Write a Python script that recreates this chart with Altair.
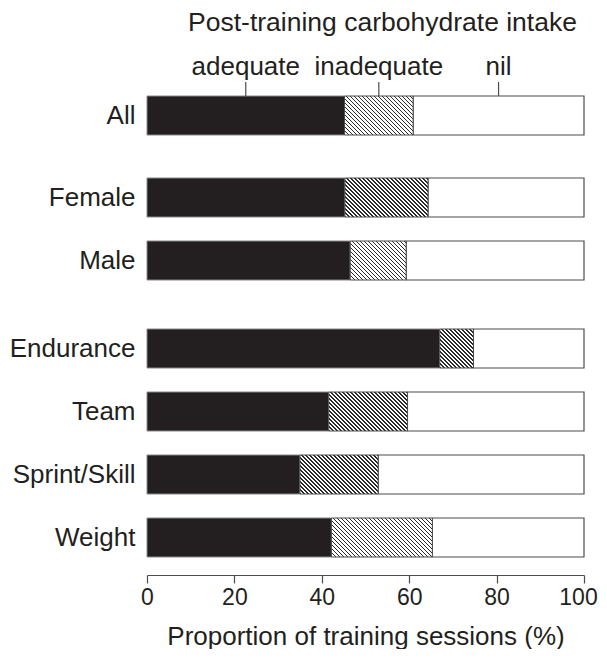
import altair as alt
import pandas as pd

groups = ["All", "Female", "Male", "Endurance", "Team", "Sprint/Skill", "Weight"]
adequate = [45.2, 45.3, 46.5, 67.0, 41.6, 35.0, 42.2]
inadequate = [15.7, 19.0, 12.8, 7.7, 18.0, 17.9, 23.1]
panel_rows = [["All"], ["Female", "Male"], ["Endurance", "Team", "Sprint/Skill", "Weight"]]
top_labels = ["adequate", "inadequate", "nil"]
x_ticks = [0, 20, 40, 60, 80, 100]
title_text = "Post-training carbohydrate intake"
x_title = "Proportion of training sessions (%)"

FONT = "Liberation Sans"
INK = "#231f20"
EDGE = "#4d4d4d"
W = 437
STEP = 63
BAR_H = 39

df = pd.DataFrame({"group": groups, "adequate": adequate, "inadequate": inadequate})


def hatch_gradient(w, h=BAR_H, period=4.0, dark=0.32):
    a = (w + h) / (w * w + h * h)
    n = (w + h) / period
    stops = []
    k = 0
    while k < n:
        o0 = k / n
        o1 = min((k + dark) / n, 1.0)
        o2 = min((k + 1) / n, 1.0)
        stops += [
            {"offset": o0, "color": "#2a2a2a"},
            {"offset": o1, "color": "#2a2a2a"},
            {"offset": o1, "color": "#ffffff"},
            {"offset": o2, "color": "#ffffff"},
        ]
        k += 1
    return {"gradient": "linear", "x1": 0, "y1": 1, "x2": a * w, "y2": 1 - a * h, "stops": stops}


xscale = alt.Scale(domain=[0, 100], nice=False, zero=True)


def panel(rows, first=False, last=False):
    base = (
        alt.Chart(df)
        .transform_filter(alt.FieldOneOfPredicate(field="group", oneOf=rows))
        .transform_calculate(end2="datum.adequate + datum.inadequate", full="100")
    )
    yenc = alt.Y(
        "group:N",
        sort=rows,
        scale=alt.Scale(paddingInner=(STEP - BAR_H) / STEP, paddingOuter=(STEP - BAR_H) / STEP / 2),
        axis=alt.Axis(title=None, labelFontSize=26, labelFont=FONT, labelColor=INK,
                      ticks=False, domain=False, labelPadding=12),
    )
    if last:
        xaxis = alt.Axis(
            values=x_ticks, title=x_title, grid=False, offset=6, tickSize=8,
            domainColor=EDGE, tickColor=EDGE, labelFontSize=23, labelFont=FONT,
            labelColor=INK, labelFlush=False, titleFont=FONT, titleFontSize=26,
            titleFontWeight="normal", titleColor=INK, titlePadding=14, labelPadding=3,
            labelOffset={"condition": {"test": "datum.value === 100", "value": -6}, "value": 0},
            domainWidth=1.2, tickWidth=1.2,
        )
    else:
        xaxis = None

    def xenc(field):
        return alt.X(field, scale=xscale, axis=xaxis)

    white = base.mark_bar(color="#ffffff", stroke=EDGE, strokeWidth=1.2).encode(
        x=xenc("end2:Q"), x2="full:Q", y=yenc
    )
    black = base.mark_bar(color=INK, stroke="#888888", strokeWidth=1).encode(
        x=xenc("adequate:Q"), y=yenc
    )
    layers = [white, black]
    for g in rows:
        i = groups.index(g)
        grad = hatch_gradient(inadequate[i] * W / 100)
        layers.append(
            base.transform_filter(alt.datum.group == g)
            .mark_bar(stroke=EDGE, strokeWidth=1)
            .encode(x=xenc("adequate:Q"), x2="end2:Q", y=yenc, fill=alt.value(grad))
        )
    if first:
        mids = [
            "datum.adequate / 2",
            "datum.adequate + datum.inadequate / 2",
            "(datum.adequate + datum.inadequate + 100) / 2",
        ]
        for lab, expr in zip(top_labels, mids):
            lb = base.transform_calculate(mid=expr)
            layers.append(
                lb.mark_rule(color=EDGE, strokeWidth=1.2).encode(
                    x=xenc("mid:Q"), y=alt.value(-2), y2=alt.value(12)
                )
            )
            layers.append(
                lb.mark_text(font=FONT, fontSize=26, color=INK, baseline="alphabetic").encode(
                    x=xenc("mid:Q"), y=alt.value(-9), text=alt.value(lab)
                )
            )
        layers.append(
            base.mark_text(font=FONT, fontSize=26.5, color=INK, baseline="alphabetic").encode(
                x=alt.value(W / 2 + 17), y=alt.value(-53), text=alt.value(title_text)
            )
        )
    return alt.layer(*layers).properties(width=W, height=STEP * len(rows))


p1 = panel(panel_rows[0], first=True)
p2 = panel(panel_rows[1])
p3 = panel(panel_rows[2], last=True)

chart = (
    alt.vconcat(alt.vconcat(p1, p2, spacing=19), p3, spacing=25)
    .properties(padding={"left": 1, "top": 2, "right": 0, "bottom": 0})
    .configure_view(stroke=None)
)

chart.save("out.html", embed_options={"renderer": "svg", "actions": False})
